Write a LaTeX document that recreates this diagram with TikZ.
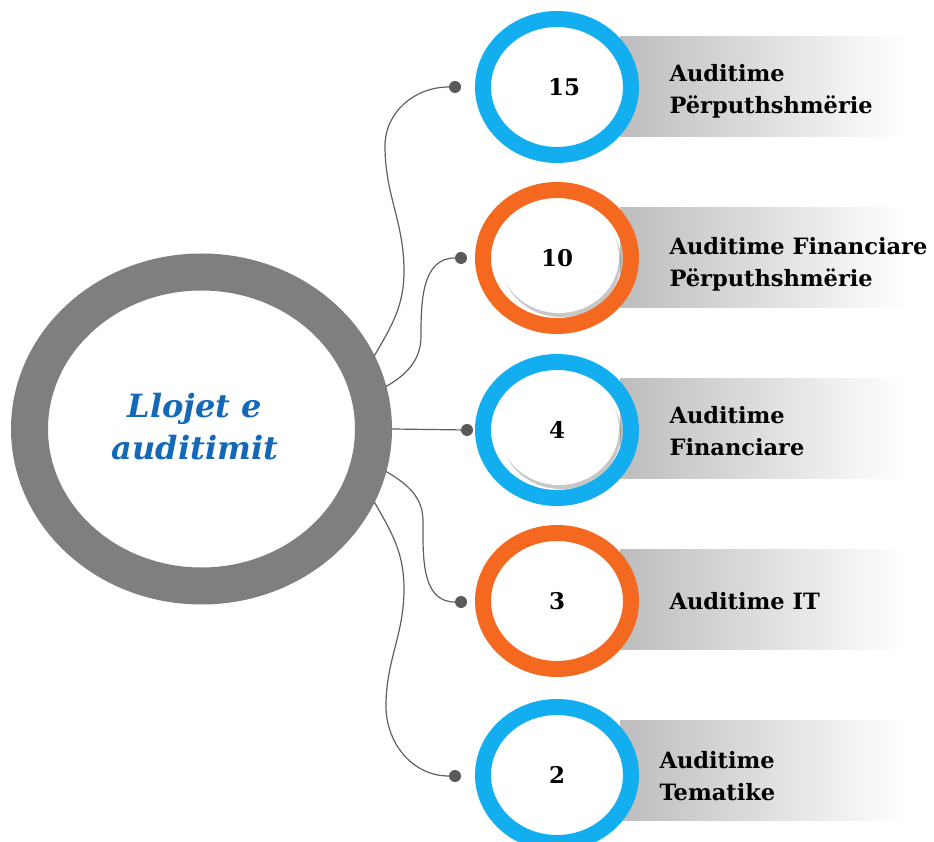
\documentclass[tikz,border=0pt]{standalone}
\usepackage{fontspec}
\setmainfont{DejaVu Serif}
\usetikzlibrary{shapes.geometric,shadows}
\definecolor{ringblue}{HTML}{13AEEF}
\definecolor{ringorange}{HTML}{F4691F}
\definecolor{ringgray}{HTML}{7F7F7F}
\definecolor{titleblue}{HTML}{1468B8}
\definecolor{dotgray}{HTML}{595959}
\begin{document}
\begin{tikzpicture}[x=1pt, y=1pt, line join=round, line cap=round,
	ring/.style={ellipse, draw, line width=16pt, minimum width=148pt, minimum height=136pt, inner sep=0pt, font=\bfseries\fontsize{23}{23}\selectfont},
	band/.style={left color=gray!52, right color=white, draw=none},
	disc/.style={ellipse, fill=white, minimum width=120pt, minimum height=112pt, drop shadow={shadow xshift=2pt, shadow yshift=-4pt, opacity=0.4, fill=black!55}},
	dot/.style={circle, fill=dotgray, minimum size=12pt, inner sep=0pt},
	link/.style={draw=gray!75!black, line width=1.2pt},
	lbl/.style={anchor=west, align=left, font=\bfseries\fontsize{22.5}{32}\selectfont}]
				\useasboundingbox (0,0) rectangle (934,841);
				% grey bands behind the labels
				\shade[band] (620,704) rectangle (905,804);
				\shade[band] (620,533) rectangle (905,633);
				\shade[band] (620,362) rectangle (905,462);
				\shade[band] (620,191) rectangle (905,291);
				\shade[band] (620,21) rectangle (905,121);
				% centre ring
				\node[ellipse, draw=ringgray, fill=white, line width=37pt, minimum width=344pt, minimum height=314pt] (main) at (201.5,412) {};
				\node[align=center, text=titleblue, font=\bfseries\itshape\fontsize{32}{42}\selectfont] (title) at (195,414) {Llojet e\\auditimit};
				% small rings
				\node[ring, draw=ringblue, fill=white] (n15) at (557,754) {\hspace*{14pt}15};
				\node[disc] (s10) at (559,584) {};
				\node[ring, draw=ringorange] (n10) at (557,583) {10};
				\node[disc] (s4) at (559,412) {};
				\node[ring, draw=ringblue] (n4) at (557,411) {4};
				\node[ring, draw=ringorange, fill=white] (n3) at (557,240) {3};
				\node[ring, draw=ringblue, fill=white] (n2) at (557,66) {2};
				% labels
				\node[lbl] (l15) at (666,750) {Auditime\\Përputhshmërie};
				\node[lbl] (l10) at (666,577) {Auditime Financiare\\Përputhshmërie};
				\node[lbl] (l4) at (666,410) {Auditime\\Financiare};
				\node[lbl] (l3) at (666,240) {Auditime IT};
				\node[lbl] (l2) at (656,65) {Auditime\\Tematike};
				% dots and links
				\node[dot] (d15) at (455,754) {};
				\node[dot] (d10) at (461,583) {};
				\node[dot] (d4) at (467,411) {};
				\node[dot] (d3) at (461,239) {};
				\node[dot] (d2) at (455,65) {};
				\draw[link] (main.23) to[out=60,in=-90] (404,570) to[out=90,in=-90] (385,695) to[out=90,in=180] (d15);
				\draw[link] (main.13) to[out=30,in=-90] (421,505) to[out=90,in=180] (d10);
				\draw[link] (main.east) -- (d4);
				\draw[link] (main.-13) to[out=-30,in=90] (423,320) to[out=-90,in=180] (d3);
				\draw[link] (main.-23) to[out=-60,in=90] (404,252) to[out=-90,in=90] (386,135) to[out=-90,in=180] (d2);
			\end{tikzpicture}
\end{document}
